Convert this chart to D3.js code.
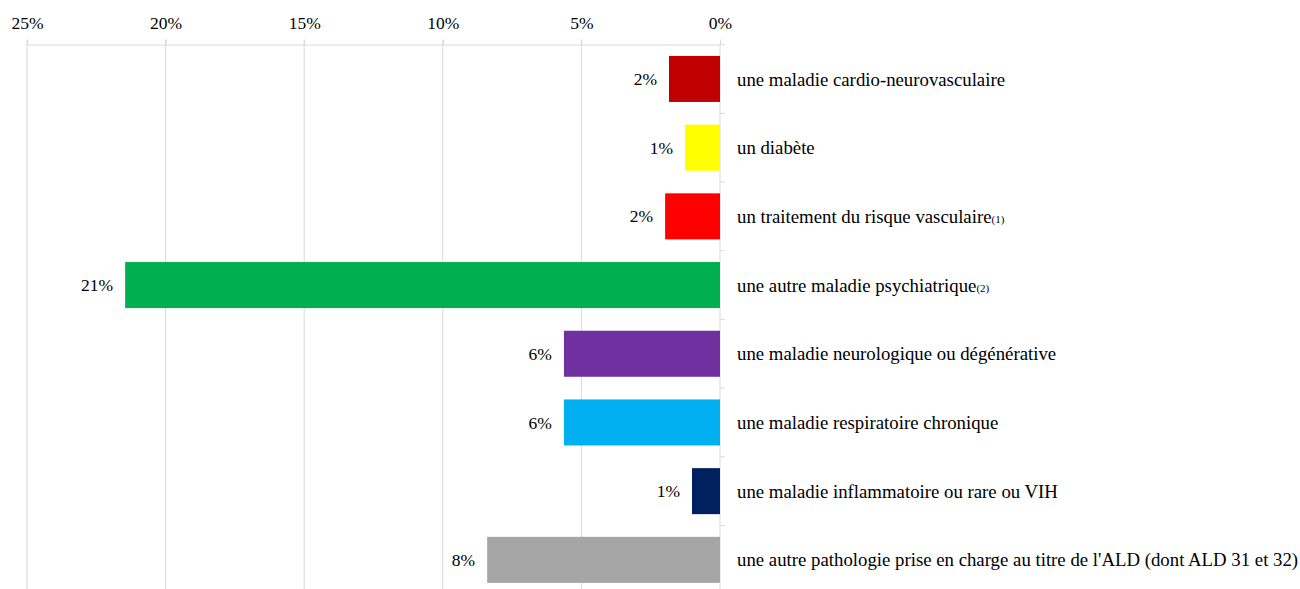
<!DOCTYPE html>
<html>
<head>
<meta charset="utf-8">
<script src="https://cdn.jsdelivr.net/npm/d3@7"></script>
<style>
  html, body { margin: 0; padding: 0; background: #fff; }
</style>
</head>
<body>
<div id="chart"></div>
<script>
// categories (label + optional note marker) and shares in %
const categories = [
    "une maladie cardio-neurovasculaire",
    "un diabète",
    "un traitement du risque vasculaire",
    "une autre maladie psychiatrique",
    "une maladie neurologique ou dégénérative",
    "une maladie respiratoire chronique",
    "une maladie inflammatoire ou rare ou VIH",
    "une autre pathologie prise en charge au titre de l'ALD (dont ALD 31 et 32)"
];
const notes = ["", "", "(1)", "(2)", "", "", "", ""];
const values = [1.84, 1.26, 1.98, 21.46, 5.63, 5.63, 1.01, 8.4];
const colors = ["#C00000", "#FFFF00", "#FF0000", "#00B050", "#7030A0", "#00B0F0", "#002060", "#A6A6A6"];
const xTicks = [0, 5, 10, 15, 20, 25];

const W = 1300, H = 589;
const margin = { top: 44.6, left: 27, zeroX: 720 };
const bandStep = 68.7;
const FONT = "'Liberation Serif', 'Times New Roman', serif";
const fsLabel = 18.8;
const fsNum = 17.5;

const svg = d3.select("#chart").append("svg")
    .attr("width", W)
    .attr("height", H);

// x reversed: 0% on the right
const x = d3.scaleLinear()
    .domain([0, 25])
    .range([margin.zeroX, margin.left]);

const y = d3.scaleBand()
    .domain(categories)
    .range([margin.top, margin.top + bandStep * categories.length])
    .paddingInner(0.33)
    .paddingOuter(0.165);

const bottom = margin.top + bandStep * categories.length;

// gridlines
svg.append("g")
    .selectAll("line")
    .data(xTicks.filter(d => d !== 0))
    .join("line")
    .attr("x1", d => x(d))
    .attr("x2", d => x(d))
    .attr("y1", margin.top - 5)
    .attr("y2", bottom)
    .attr("stroke", "#d9d9d9")
    .attr("stroke-width", 1);

// top axis
const xAxis = svg.append("g")
    .attr("transform", `translate(0,${margin.top})`)
    .call(d3.axisTop(x).tickValues(xTicks).tickFormat(d => d + "%").tickSize(5).tickSizeOuter(0));
xAxis.select(".domain").attr("stroke", "#d9d9d9");
xAxis.selectAll(".tick line").attr("stroke", "#d9d9d9");
xAxis.selectAll(".tick text")
    .style("font-family", FONT)
    .style("font-size", fsNum + "px")
    .attr("fill", "#000")
    .attr("y", -15.6)
    .attr("dy", 0);

// zero axis with band ticks
svg.append("line")
    .attr("x1", x(0)).attr("x2", x(0))
    .attr("y1", margin.top).attr("y2", bottom)
    .attr("stroke", "#d9d9d9");
svg.append("g")
    .selectAll("line")
    .data(d3.range(categories.length + 1))
    .join("line")
    .attr("x1", x(0))
    .attr("x2", x(0) + 5)
    .attr("y1", i => margin.top + i * bandStep)
    .attr("y2", i => margin.top + i * bandStep)
    .attr("stroke", "#d9d9d9");

// bars
svg.append("g")
    .selectAll("rect")
    .data(values)
    .join("rect")
    .attr("x", d => x(d))
    .attr("y", (d, i) => y(categories[i]))
    .attr("width", d => x(0) - x(d))
    .attr("height", y.bandwidth())
    .attr("fill", (d, i) => colors[i]);

// value labels
svg.append("g")
    .selectAll("text")
    .data(values)
    .join("text")
    .attr("x", d => x(d) - 12)
    .attr("y", (d, i) => y(categories[i]) + y.bandwidth() / 2)
    .attr("dy", "0.35em")
    .attr("text-anchor", "end")
    .style("font-family", FONT)
    .style("font-size", fsNum + "px")
    .attr("fill", "#000")
    .text(d => Math.round(d) + "%");

// category labels
const lab = svg.append("g")
    .selectAll("text")
    .data(categories)
    .join("text")
    .attr("x", x(0) + 17)
    .attr("y", d => y(d) + y.bandwidth() / 2)
    .attr("dy", "0.35em")
    .style("font-family", FONT)
    .style("font-size", fsLabel + "px")
    .attr("fill", "#000");
lab.append("tspan").text(d => d);
lab.append("tspan")
    .style("font-size", "11px")
    .text((d, i) => notes[i]);
</script>
</body>
</html>
